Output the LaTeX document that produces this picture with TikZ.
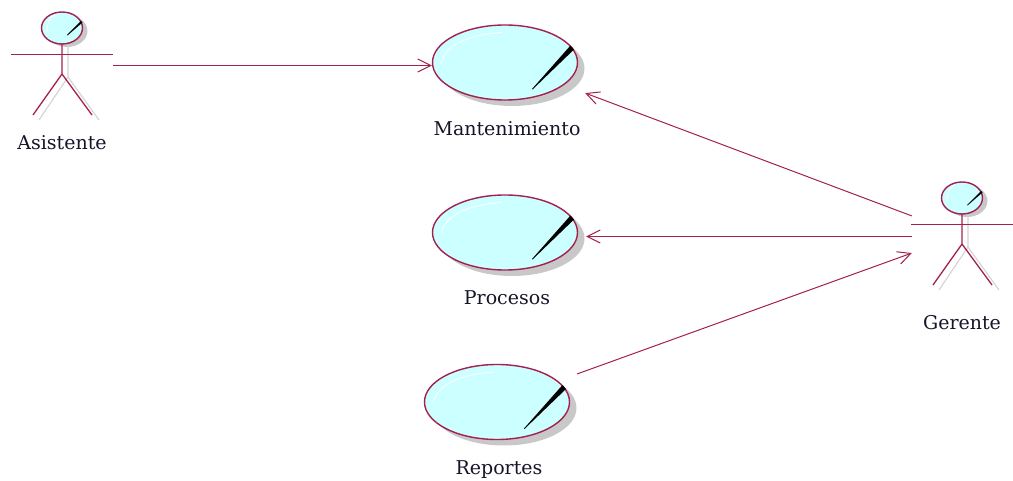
\documentclass[tikz,border=0pt]{standalone}
\usepackage{fontspec}
\setmainfont{DejaVu Serif}
\usetikzlibrary{arrows.meta,shapes.geometric}
\definecolor{umlline}{HTML}{A3204F}
\definecolor{umlfill}{HTML}{CCFFFF}
\definecolor{umlshadow}{HTML}{C8C8C8}
\definecolor{umltext}{HTML}{15152A}
\tikzset{
  usecase/.style={ellipse,draw=umlline,fill=umlfill,line width=1.4pt,inner sep=0pt,minimum width=145pt,minimum height=75pt},
  casedrop/.style={ellipse,fill=umlshadow,inner sep=0pt,minimum width=145pt,minimum height=75pt},
  headshape/.style={ellipse,draw=umlline,fill=umlfill,line width=1.4pt,inner sep=0pt,minimum width=41pt,minimum height=32pt},
  headdrop/.style={ellipse,fill=umlshadow,inner sep=0pt,minimum width=41pt,minimum height=32pt},
  limb/.style={draw=umlline,line width=1.3pt},
  armline/.style={draw=umlline,line width=0.9pt},
  limbdrop/.style={draw=umlshadow!80,line width=1.1pt},
  shine/.style={draw=white,line width=0.8pt},
  needle/.style={fill=black,draw=none},
  assoc/.style={draw=umlline,line width=1pt,-{Straight Barb[length=13pt,width=13pt,line width=1pt]}},
  caption/.style={text=umltext,font=\fontsize{19pt}{21pt}\selectfont,inner sep=0pt},
  port/.style={inner sep=0pt,minimum size=0pt}
}
\newcommand{\drawcase}[5]{% name, x, y, label, label y
  \begin{scope}[shift={(#2,#3)}]
    \node[casedrop] at (7,6) {};
  \end{scope}
  \node[usecase] (#1) at (#2,#3) {};
  \begin{scope}[shift={(#2,#3)}]
    \draw[shine] (-64,1) .. controls (-60,-18) and (-35,-28) .. (-3,-30);
    \fill[needle] (65.5,-17) -- (69,-13) -- (27.5,27) -- (27,26.5) -- cycle;
  \end{scope}
  \node[caption] (#1label) at (#2+2,#5) {#4};
}
\newcommand{\drawactor}[5]{% name, x, y of head centre, label, label y
  \begin{scope}[shift={(#2,#3)}]
    \node[headdrop] at (5,3) {};
    \draw[limbdrop] (6,17) -- (6,49) -- (-23,92);
    \draw[limbdrop] (6,49) -- (37,92);
    \node[headshape] (#1) at (0,0) {};
    \draw[shine] (-15,4) .. controls (-15,-6) and (-12,-11) .. (-7,-13);
    \fill[needle] (19,-7) -- (20.5,-5.5) -- (5.5,7.5) -- (5,7) -- cycle;
    \draw[armline] (-51,26.5) -- (51,26.5);
    \draw[limb] (0,16) -- (0,46) -- (-29,87);
    \draw[limb] (0,46) -- (30,87);
  \end{scope}
  \node[caption] (#1label) at (#2,#5) {#4};
}
\begin{document}
\begin{tikzpicture}[x=1pt,y=-1pt]
\useasboundingbox (0,0) rectangle (1013,481);
\drawcase{mant}{505}{62.5}{Mantenimiento}{129}
\drawcase{proc}{505}{232.5}{Procesos}{298}
\drawcase{repo}{497}{402}{Reportes}{469.5}
\drawactor{asis}{62}{28}{Asistente}{143}
\drawactor{gere}{962}{198}{Gerente}{323}
\node[port] (asisout) at (113,65.5) {};
\node[port] (mantin) at (432,65.5) {};
\node[port] (gereA) at (912,216) {};
\node[port] (mantB) at (585,93) {};
\node[port] (gereB) at (912,236.5) {};
\node[port] (procin) at (586,236.5) {};
\node[port] (repoout) at (577,374) {};
\node[port] (gereC) at (912,253) {};
\draw[assoc] (asisout) -- (mantin);
\draw[assoc] (gereA) -- (mantB);
\draw[assoc] (gereB) -- (procin);
\draw[assoc] (repoout) -- (gereC);
\end{tikzpicture}
\end{document}
